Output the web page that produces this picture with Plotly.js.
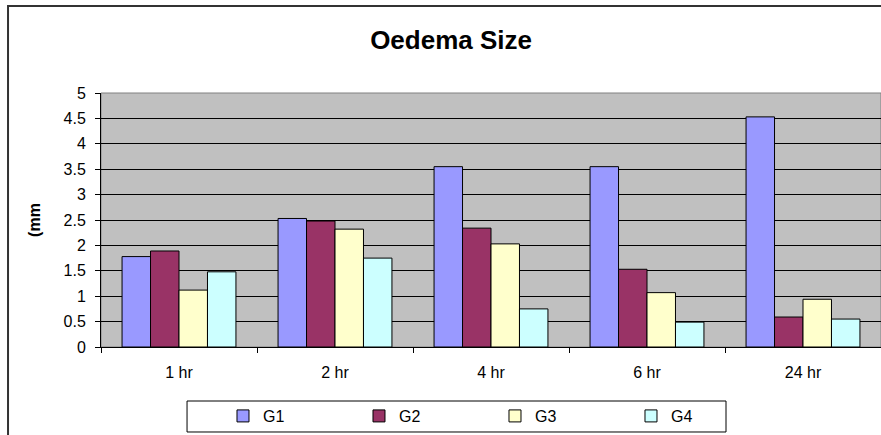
<!DOCTYPE html>
<html>
<head>
<meta charset="utf-8">
<script src="https://cdn.plot.ly/plotly-3.0.1.min.js"></script>
<style>html,body{margin:0;padding:0;background:#fff;}#chart{width:881px;height:435px;}</style>
</head>
<body>
<div id="chart"></div>
<script>
const categories = ["1 hr", "2 hr", "4 hr", "6 hr", "24 hr"];
const seriesNames = ["G1", "G2", "G3", "G4"];
const g1 = [1.78, 2.53, 3.55, 3.55, 4.53];
const g2 = [1.89, 2.48, 2.34, 1.53, 0.59];
const g3 = [1.12, 2.32, 2.03, 1.07, 0.94];
const g4 = [1.48, 1.75, 0.75, 0.49, 0.55];
const colors = ["#9999FF", "#993366", "#FFFFCC", "#CCFFFF"];
const seriesValues = [g1, g2, g3, g4];

const FONT = "Liberation Sans, Arial, sans-serif";

const traces = seriesValues.map((vals, i) => ({
  type: "bar",
  name: seriesNames[i],
  x: categories,
  y: vals,
  marker: {color: colors[i], line: {color: "#000000", width: 1}},
  hoverinfo: "x+y+name"
}));

const layout = {
  width: 881,
  height: 435,
  margin: {l: 101, r: 0, t: 93, b: 88},
  paper_bgcolor: "#ffffff",
  plot_bgcolor: "#C0C0C0",
  font: {family: FONT, size: 16, color: "#000000"},
  barmode: "group",
  bargap: 0.27,
  bargroupgap: 0,
  title: {
    text: "<b>Oedema Size</b>",
    font: {family: FONT, size: 26, color: "#000000"},
    x: 0.512, xref: "container", xanchor: "center",
    y: 0.908, yref: "container", yanchor: "middle"
  },
  xaxis: {
    type: "category",
    tickson: "boundaries",
    ticks: "outside",
    ticklen: 5,
    tickcolor: "#000000",
    ticklabelstandoff: 11,
    showline: true,
    linecolor: "#000000",
    linewidth: 1,
    showgrid: false,
    tickfont: {family: FONT, size: 16, color: "#000000"},
    fixedrange: true
  },
  yaxis: {
    range: [0, 5],
    dtick: 0.5,
    tick0: 0,
    ticks: "outside",
    ticklen: 5,
    tickcolor: "#000000",
    ticklabelstandoff: 6,
    showline: true,
    linecolor: "#000000",
    linewidth: 1,
    showgrid: true,
    gridcolor: "#000000",
    gridwidth: 1,
    zeroline: false,
    tickfont: {family: FONT, size: 16, color: "#000000"},
    title: {text: "<b>(mm</b>", font: {family: FONT, size: 16, color: "#000000"}, standoff: 18},
    fixedrange: true
  },
  showlegend: true,
  legend: {
    orientation: "h",
    x: 0.1564, xanchor: "left",
    y: -0.2717, yanchor: "middle",
    bgcolor: "rgba(0,0,0,0)",
    borderwidth: 0,
    entrywidth: 91,
    entrywidthmode: "pixels",
    font: {family: FONT, size: 16, color: "#000000"},
    traceorder: "normal"
  },
  shapes: [
    {type: "rect", xref: "paper", yref: "paper", x0: 0, x1: 1, y0: 0, y1: 1,
     line: {color: "#808080", width: 1}, fillcolor: "rgba(0,0,0,0)", layer: "below"},
    {type: "rect", xref: "paper", yref: "paper", x0: 0.1103, x1: 0.8013, y0: -0.3346, y1: -0.2126,
     line: {color: "#000000", width: 1}, fillcolor: "rgba(0,0,0,0)"},
    {type: "rect", xref: "paper", yref: "paper", x0: -0.1192, x1: 1.2, y0: -0.5, y1: 1.3425,
     line: {color: "#333333", width: 2}, fillcolor: "rgba(0,0,0,0)"}
  ]
};

Plotly.newPlot("chart", traces, layout, {displayModeBar: false, staticPlot: true});
</script>
</body>
</html>
